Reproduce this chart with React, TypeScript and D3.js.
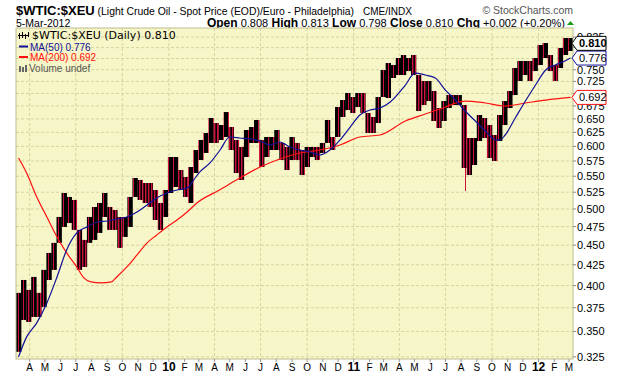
import React from 'react';
import * as d3 from 'd3';

// ~10-day periods: start date, high, low
const periodDates = [
  '2009-03-10','2009-03-20','2009-03-30','2009-04-09','2009-04-19','2009-04-29','2009-05-09','2009-05-19','2009-05-29','2009-06-08',
  '2009-06-18','2009-06-28','2009-07-08','2009-07-18','2009-07-28','2009-08-07','2009-08-17','2009-08-27','2009-09-06','2009-09-16',
  '2009-09-26','2009-10-06','2009-10-16','2009-10-26','2009-11-05','2009-11-15','2009-11-25','2009-12-05','2009-12-15','2009-12-25',
  '2010-01-04','2010-01-14','2010-01-24','2010-02-03','2010-02-13','2010-02-23','2010-03-05','2010-03-15','2010-03-25','2010-04-04',
  '2010-04-14','2010-04-24','2010-05-04','2010-05-14','2010-05-24','2010-06-03','2010-06-13','2010-06-23','2010-07-03','2010-07-13',
  '2010-07-23','2010-08-02','2010-08-12','2010-08-22','2010-09-01','2010-09-11','2010-09-21','2010-10-01','2010-10-11','2010-10-21',
  '2010-10-31','2010-11-10','2010-11-20','2010-11-30','2010-12-10','2010-12-20','2010-12-30','2011-01-09','2011-01-19','2011-01-29',
  '2011-02-08','2011-02-18','2011-02-28','2011-03-10','2011-03-20','2011-03-30','2011-04-09','2011-04-19','2011-04-29','2011-05-09',
  '2011-05-19','2011-05-29','2011-06-08','2011-06-18','2011-06-28','2011-07-08','2011-07-18','2011-07-28','2011-08-07','2011-08-17',
  '2011-08-27','2011-09-06','2011-09-16','2011-09-26','2011-10-06','2011-10-16','2011-10-26','2011-11-05','2011-11-15','2011-11-25',
  '2011-12-05','2011-12-15','2011-12-25','2012-01-04','2012-01-14','2012-01-24','2012-02-03','2012-02-13','2012-02-23','2012-03-04',
];
const highs = [
  .3916,.4066,.3950,.4102,.3916,.4187,.4399,.4530,.4885,.5238,
  .5178,.5133,.4704,.4569,.4885,.5029,.5088,.5238,.5029,.4985,
  .4885,.4885,.5178,.5472,.5441,.5393,.5393,.5284,.5088,.5284,
  .5817,.5817,.5601,.5488,.5650,.5937,.6113,.6238,.6517,.6423,
  .6385,.6631,.6348,.6113,.5989,.6293,.6348,.6479,.6113,.6166,
  .6166,.6293,.6060,.5989,.6166,.6060,.5937,.5989,.5989,.5989,
  .6060,.6479,.6166,.6729,.6867,.7009,.6928,.7009,.7009,.6612,
  .6536,.6928,.7494,.7649,.7604,.7761,.7829,.7761,.7829,.7386,
  .7258,.7258,.7050,.6709,.6847,.6968,.6968,.6968,.6768,.6148,
  .6148,.6574,.6517,.6385,.6202,.6574,.6847,.7050,.7538,.7694,
  .7694,.7694,.7761,.8060,.8107,.7829,.7604,.7991,.8226,.8226,
];
const lows = [
  .3298,.3619,.3598,.3651,.3651,.3759,.4066,.4187,.4530,.4745,
  .4800,.4704,.4187,.4223,.4530,.4569,.4663,.4885,.4704,.4704,
  .4464,.4609,.4745,.5178,.5133,.5088,.5029,.4842,.4704,.4885,
  .5238,.5331,.5284,.5178,.5088,.5552,.5767,.5886,.6060,.6060,
  .6113,.6166,.5937,.5552,.5441,.5817,.6060,.6060,.5650,.5817,
  .5937,.5937,.5767,.5601,.5767,.5767,.5520,.5650,.5817,.5767,
  .5886,.6060,.5937,.6166,.6536,.6670,.6612,.6729,.6612,.6238,
  .6238,.6423,.6928,.6908,.7322,.7386,.7386,.7472,.7386,.6651,
  .6768,.6847,.6460,.6330,.6460,.6709,.6768,.6768,.5634,.5520,
  .5683,.6095,.6148,.5800,.5750,.6095,.6385,.6709,.6968,.7258,
  .7386,.7258,.7472,.7604,.7761,.7472,.7258,.7538,.7829,.7921,
];
// single-day extreme low (Aug 2011 spike)
const spikeDates = ['2011-08-09'];
const spikeLows = [0.527];

const ma50Dates = [
  '2009-03-10','2009-03-26','2009-04-15','2009-05-05','2009-05-25','2009-06-13','2009-07-03','2009-07-23','2009-08-12','2009-09-01',
  '2009-09-20','2009-10-10','2009-10-30','2009-11-19','2009-12-08','2009-12-28','2010-01-17','2010-02-06','2010-02-23','2010-03-03',
  '2010-03-23','2010-04-12','2010-05-01','2010-05-21','2010-06-10','2010-06-30','2010-07-19','2010-08-08','2010-08-28','2010-09-17',
  '2010-10-07','2010-10-26','2010-11-15','2010-12-05','2010-12-25','2011-01-13','2011-02-02','2011-02-22','2011-03-14','2011-04-13',
  '2011-05-02','2011-05-22','2011-06-11','2011-07-01','2011-07-21','2011-08-09','2011-08-29','2011-09-18','2011-10-08','2011-10-17',
  '2011-10-27','2011-11-16','2011-12-06','2011-12-26','2012-01-15','2012-02-03','2012-02-22','2012-03-04',
];
const ma50Values = [
  .3250,.3445,.3588,.3803,.4102,.4438,.4663,.4745,.4814,.4828,
  .4856,.4885,.4956,.5059,.5163,.5238,.5284,.5315,.5488,.5569,
  .5717,.5937,.6166,.6148,.6131,.6095,.6024,.6077,.5989,.5937,
  .5903,.5851,.5937,.6113,.6348,.6574,.6670,.6709,.6828,.7174,
  .7429,.7386,.7322,.7070,.6867,.6651,.6460,.6275,.6113,.6113,
  .6202,.6517,.6847,.7174,.7494,.7604,.7694,.7760,
];
const ma200Dates = [
  '2009-03-10','2009-03-26','2009-04-15','2009-05-05','2009-05-25','2009-06-13','2009-07-03','2009-07-17','2009-07-31','2009-08-20',
  '2009-09-09','2009-09-20','2009-10-10','2009-10-30','2009-11-19','2009-12-08','2009-12-28','2010-01-17','2010-02-06','2010-02-25',
  '2010-04-11','2010-05-21','2010-06-30','2010-08-08','2010-09-17','2010-10-26','2010-12-05','2011-01-13','2011-02-22','2011-04-13',
  '2011-05-22','2011-07-01','2011-07-21','2011-08-09','2011-09-18','2011-10-27','2011-12-06','2012-01-15','2012-03-04',
];
const ma200Values = [
  .5800,.5552,.5178,.4885,.4609,.4399,.4223,.4090,.4043,.4031,
  .4043,.4102,.4223,.4373,.4530,.4636,.4745,.4842,.4956,.5088,
  .5284,.5472,.5650,.5784,.5886,.5937,.6024,.6166,.6202,.6460,
  .6593,.6729,.6808,.6847,.6808,.6749,.6808,.6867,.6920,
];

const yTicks = [0.325,0.35,0.375,0.4,0.425,0.45,0.475,0.5,0.525,0.55,0.575,0.6,0.625,0.65,0.675,0.7,0.725,0.75,0.775,0.8,0.825];
const monthLetters = ['J','F','M','A','M','J','J','A','S','O','N','D'];
const headerItems = [['Open','0.808'],['High','0.813'],['Low','0.798'],['Close','0.810'],['Chg','+0.002 (+0.20%)']];
const lastClose = 0.810, lastMa50 = 0.776, lastMa200 = 0.692;

const SANS = 'Liberation Sans, Arial, sans-serif';
const RED = '#d0103c';

export default function App() {
  const L = 16, R = 573, T = 28, B = 359;
  const parse = d3.timeParse('%Y-%m-%d');
  const x = d3.scaleTime().domain([new Date(2009, 2, 5), new Date(2012, 2, 9)]).range([L, R]);
  const y = d3.scaleLog().domain([0.323, 0.847]).range([B, T]);

  const dates = periodDates.map((s) => parse(s) as Date);
  const mids = highs.map((h, i) => Math.sqrt(h * lows[i]));
  const bars = dates.map((d, i) => {
    const x0 = x(d);
    const x1 = x(d3.timeDay.offset(d, 10));
    const down = i > 0 && mids[i] < mids[i - 1];
    return { x: x0, w: x1 - x0, y0: y(highs[i]), y1: y(lows[i]), down };
  });
  const spikes = spikeDates.map((s, i) => {
    const d = parse(s) as Date;
    const idx = d3.bisectRight(dates, d) - 1;
    return { x: Math.round(x(d)) + 0.5, y0: y(lows[idx]), y1: y(spikeLows[i]) };
  });

  const line = d3.line<[Date, number]>().x((d) => x(d[0])).y((d) => y(d[1])).curve(d3.curveMonotoneX);
  const ma50Path = line(ma50Dates.map((s, i) => [parse(s) as Date, ma50Values[i]])) || '';
  const ma200Path = line(ma200Dates.map((s, i) => [parse(s) as Date, ma200Values[i]])) || '';

  const months = d3.timeMonth.range(new Date(2009, 3, 1), new Date(2012, 3, 1));
  const quarters = months.filter((m) => m.getMonth() % 3 === 0);

  const tagCenters = [lastClose, lastMa50, lastMa200].map((v) => y(v));
  const hiddenTick = (v: number) => v !== 0.825 && tagCenters.some((c) => Math.abs(c - y(v)) < 8);

  const tag = (v: number, color: string, bold: boolean) => {
    const cy = y(v);
    const pts = [[572, cy], [577, cy - 7], [606, cy - 7], [606, cy + 7], [577, cy + 7]].map((p) => p.join(',')).join(' ');
    return (
      <g key={v}>
        <polygon points={pts} fill="#fff" stroke={color} strokeWidth={1} />
        <text x={579} y={cy + 4} fontFamily={SANS} fontSize={11} fontWeight={bold ? 'bold' : 'normal'} fill="#000">{v.toFixed(3)}</text>
      </g>
    );
  };

  return (
    <svg width={620} height={376} style={{ position: 'absolute', left: 0, top: 0, background: '#fff' }}>
      <defs>
        <clipPath id="plot"><rect x={L} y={T} width={R - L} height={B - T} /></clipPath>
        <pattern id="upBars" patternUnits="userSpaceOnUse" width={5} height={10}>
          <rect x={0} y={0} width={5} height={10} fill="#000" />
          <rect x={3} y={0} width={1} height={10} fill={RED} />
        </pattern>
        <pattern id="downBars" patternUnits="userSpaceOnUse" width={3} height={10}>
          <rect x={0} y={0} width={3} height={10} fill="#000" />
          <rect x={1} y={0} width={1.4} height={10} fill={RED} />
        </pattern>
      </defs>
      {/* header */}
      <text x={16} y={15} fontFamily={SANS} fill="#000">
        <tspan fontWeight="bold" fontSize={13}>$WTIC:$XEU</tspan>
        <tspan fontSize={10.4}>{' (Light Crude Oil - Spot Price (EOD)/Euro - Philadelphia)'}</tspan>
      </text>
      <text x={363} y={15} fontFamily={SANS} fontSize={10} fill="#000">CME/INDX</text>
      <text x={573} y={14} textAnchor="end" fontFamily={SANS} fontSize={10.5} fill="#555">© StockCharts.com</text>
      <text x={16} y={26.5} fontFamily={SANS} fontSize={10.5} fill="#000">5-Mar-2012</text>
      <text x={565} y={26.5} textAnchor="end" fontFamily={SANS} fill="#000">
        {headerItems.map(([k, v], i) => (
          <React.Fragment key={k}>
            <tspan fontWeight="bold" fontSize={12}>{(i > 0 ? '  ' : '') + k}</tspan>
            <tspan fontSize={11}>{' ' + v}</tspan>
          </React.Fragment>
        ))}
      </text>
      <polygon points="567,25 574,25 570.5,21" fill="#1a9a1a" />

      {/* plot */}
      <rect x={L} y={T} width={R - L} height={B - T} fill="#F7F6C8" />
      {yTicks.map((v) => (
        <line key={v} x1={L} x2={R} y1={y(v)} y2={y(v)} stroke="#d6d49e" strokeDasharray="3,2" strokeWidth={1} />
      ))}
      {quarters.map((m) => (
        <line key={+m} x1={x(m)} x2={x(m)} y1={T} y2={B} stroke="#d6d49e" strokeDasharray="3,2" strokeWidth={1} />
      ))}
      <g clipPath="url(#plot)">
        {bars.map((b, i) => (
          <rect key={i} x={b.x - b.w / 2} y={b.y0} width={b.w + 0.3} height={Math.max(1, b.y1 - b.y0)} fill={b.down ? 'url(#downBars)' : 'url(#upBars)'} />
        ))}
        {spikes.map((s, i) => (
          <line key={i} x1={s.x} x2={s.x} y1={s.y0} y2={s.y1} stroke={RED} strokeWidth={1} />
        ))}
        <path d={ma200Path} fill="none" stroke="#ff1010" strokeWidth={1.2} />
        <path d={ma50Path} fill="none" stroke="#101098" strokeWidth={1.2} />
      </g>
      <rect x={L} y={T} width={R - L} height={B - T} fill="none" stroke="#bebe92" strokeWidth={1} />

      {/* legend */}
      <g stroke="#000" strokeWidth={1}>
        <line x1={19.5} x2={19.5} y1={33} y2={39} />
        <line x1={22.5} x2={22.5} y1={32} y2={38} />
        <line x1={25.5} x2={25.5} y1={34} y2={39} />
        <line x1={28.5} x2={28.5} y1={32} y2={37} />
        <line x1={18} x2={29} y1={35.5} y2={35.5} />
      </g>
      <text x={32} y={39} fontFamily="DejaVu Sans, sans-serif" fontSize={11} fill="#000">$WTIC:$XEU (Daily) 0.810</text>
      <line x1={19} x2={28} y1={46.5} y2={46.5} stroke="#101098" strokeWidth={2} />
      <text x={30} y={50.5} fontFamily={SANS} fontSize={10} fill="#101098">MA(50) 0.776</text>
      <line x1={19} x2={28} y1={57} y2={57} stroke="#ff1010" strokeWidth={2} />
      <text x={30} y={61} fontFamily={SANS} fontSize={10} fill="#ff1010">MA(200) 0.692</text>
      <g fill="#666">
        <rect x={19} y={66} width={2} height={6} />
        <rect x={22} y={67} width={2} height={5} />
        <rect x={25} y={65} width={2} height={7} />
      </g>
      <text x={29} y={71.5} fontFamily={SANS} fontSize={10} fill="#555">Volume undef</text>

      {/* y axis */}
      {yTicks.map((v) => (
        <g key={v}>
          <line x1={R} x2={R + 3} y1={y(v)} y2={y(v)} stroke="#888" />
          {!hiddenTick(v) && (
            <text x={577} y={y(v) + 4} fontFamily={SANS} fontSize={11} fill="#000">{v.toFixed(3)}</text>
          )}
        </g>
      ))}
      {tag(lastMa200, '#ff1010', false)}
      {tag(lastMa50, '#101098', false)}
      {tag(lastClose, '#000', true)}

      {/* x axis */}
      {months.map((m) => {
        const jan = m.getMonth() === 0;
        return (
          <g key={+m}>
            <line x1={x(m)} x2={x(m)} y1={B} y2={B + 3} stroke="#999" />
            <text x={x(m)} y={371} textAnchor="middle" fontFamily={SANS} fontSize={jan ? 12 : 10} fontWeight={jan ? 'bold' : 'normal'} fill="#000">
              {jan ? d3.timeFormat('%y')(m) : monthLetters[m.getMonth()]}
            </text>
          </g>
        );
      })}
    </svg>
  );
}
